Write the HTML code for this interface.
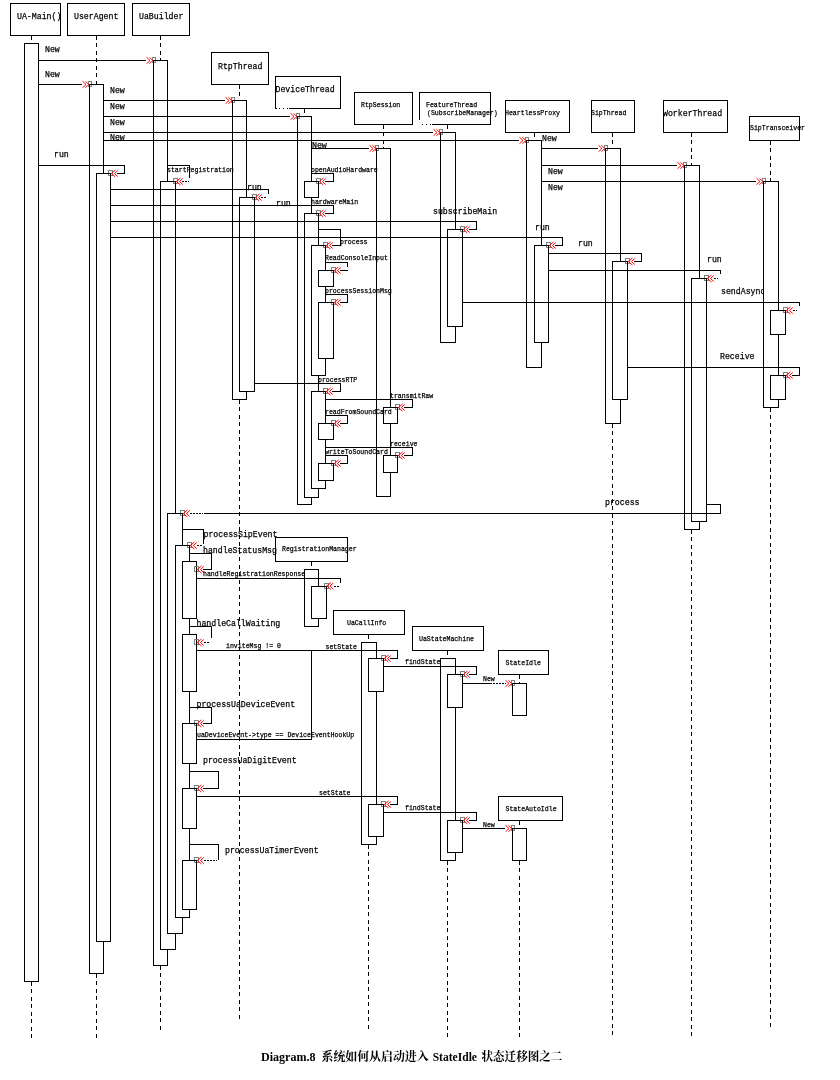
<!DOCTYPE html>
<html><head><meta charset="utf-8"><title>Diagram.8</title>
<style>
html,body{margin:0;padding:0;background:#fff;}
body{width:840px;height:1080px;overflow:hidden;font-family:"Liberation Mono",monospace;}
svg{display:block;}
.l{stroke:#000;stroke-width:1;fill:none;}
.a{stroke:#000;stroke-width:1;fill:#fff;}
.d{stroke:#000;stroke-width:1;fill:none;stroke-dasharray:4 3.5;}
.dd{stroke:#000;stroke-width:1;fill:none;stroke-dasharray:1.5 1.5;}
.r{stroke:#f00;stroke-width:1;fill:none;}
.g{stroke:#808080;stroke-width:1;fill:none;}
text{font-family:"Liberation Mono",monospace;fill:#000;stroke:#000;stroke-width:0.25px;}
.tb{font-size:9px;}
.ts{font-size:7px;}
.cap{font-family:"Liberation Serif","Noto Serif CJK SC",serif;font-weight:bold;font-size:12px;stroke:none;}
</style></head><body>
<svg width="840" height="1080" viewBox="0 0 840 1080">
<rect x="0" y="0" width="840" height="1080" fill="#fff"/>
<g shape-rendering="crispEdges">
<path class="d" d="M31.5 35.5V43.5"/>
<path class="d" d="M31.5 981.5V1037.5"/>
<path class="d" d="M96.5 35.5V84.5"/>
<path class="d" d="M96.5 973.5V1037.5"/>
<path class="d" d="M160.5 35.5V60.5"/>
<path class="d" d="M160.5 965.5V1029.5"/>
<path class="d" d="M239.5 84.5V100.5"/>
<path class="d" d="M239.5 399.5V1020.5"/>
<path class="d" d="M304.5 108.5V116.5"/>
<path class="d" d="M383.5 124.5V148.5"/>
<path class="d" d="M447.5 124.5V132.5"/>
<path class="d" d="M534.5 132.5V140.5"/>
<path class="d" d="M612.5 132.5V148.5"/>
<path class="d" d="M612.5 423.5V1036"/>
<path class="d" d="M691.5 132.5V165.5"/>
<path class="d" d="M691.5 529.5V1036"/>
<path class="d" d="M770.5 140.5V181.5"/>
<path class="d" d="M770.5 407.5V1027.5"/>
<path class="d" d="M311.5 561.5V569.5"/>
<path class="d" d="M368.5 634.5V642.5"/>
<path class="d" d="M368.5 844.5V1030"/>
<path class="d" d="M447.5 650.5V658.5"/>
<path class="d" d="M447.5 860.5V1038"/>
<path class="d" d="M519.5 674.5V683.5"/>
<path class="d" d="M519.5 820.5V828.5"/>
<path class="d" d="M519.5 860.5V1038"/>
<rect class="a" x="10.5" y="3.5" width="50" height="32"/>
<rect class="a" x="67.5" y="3.5" width="57" height="32"/>
<rect class="a" x="132.5" y="3.5" width="57" height="32"/>
<rect class="a" x="211.5" y="52.5" width="57" height="32"/>
<rect class="a" x="275.5" y="76.5" width="65" height="32"/>
<rect class="a" x="354.5" y="92.5" width="58" height="32"/>
<rect class="a" x="419.5" y="92.5" width="71" height="32"/>
<rect class="a" x="505.5" y="100.5" width="64" height="32"/>
<rect class="a" x="591.5" y="100.5" width="43" height="32"/>
<rect class="a" x="663.5" y="100.5" width="64" height="32"/>
<rect class="a" x="749.5" y="116.5" width="50" height="24"/>
<rect class="a" x="275.5" y="537.5" width="72" height="24"/>
<rect class="a" x="333.5" y="610.5" width="71" height="24"/>
<rect class="a" x="412.5" y="626.5" width="71" height="24"/>
<rect class="a" x="498.5" y="650.5" width="50" height="24"/>
<rect class="a" x="498.5" y="796.5" width="64" height="24"/>
<rect class="a" x="24.5" y="43.5" width="14" height="938"/>
<rect class="a" x="89.5" y="84.5" width="14" height="889"/>
<rect class="a" x="96.5" y="173.5" width="14" height="768"/>
<rect class="a" x="153.5" y="60.5" width="14" height="905"/>
<rect class="a" x="160.5" y="181.5" width="15" height="768"/>
<rect class="a" x="167.5" y="513.5" width="15" height="420"/>
<rect class="a" x="175.5" y="545.5" width="14" height="372"/>
<rect class="a" x="182.5" y="561.5" width="14" height="57"/>
<rect class="a" x="182.5" y="634.5" width="14" height="57"/>
<rect class="a" x="182.5" y="723.5" width="14" height="40"/>
<rect class="a" x="182.5" y="788.5" width="14" height="40"/>
<rect class="a" x="182.5" y="860.5" width="14" height="49"/>
<rect class="a" x="232.5" y="100.5" width="14" height="299"/>
<rect class="a" x="239.5" y="197.5" width="15" height="194"/>
<rect class="a" x="297.5" y="116.5" width="14" height="388"/>
<rect class="a" x="304.5" y="181.5" width="14" height="16"/>
<rect class="a" x="304.5" y="213.5" width="14" height="283.5"/>
<rect class="a" x="311.5" y="245.5" width="14" height="130"/>
<rect class="a" x="311.5" y="391.5" width="14" height="97"/>
<rect class="a" x="318.5" y="270.5" width="15" height="16"/>
<rect class="a" x="318.5" y="302.5" width="15" height="56"/>
<rect class="a" x="318.5" y="423.5" width="15" height="16"/>
<rect class="a" x="318.5" y="463.5" width="15" height="17"/>
<rect class="a" x="376.5" y="148.5" width="14" height="348"/>
<rect class="a" x="383.5" y="407.5" width="14" height="16"/>
<rect class="a" x="383.5" y="455.5" width="14" height="16.5"/>
<rect class="a" x="440.5" y="132.5" width="15" height="210"/>
<rect class="a" x="447.5" y="229.5" width="15" height="97"/>
<rect class="a" x="526.5" y="140.5" width="15" height="227"/>
<rect class="a" x="534.5" y="245.5" width="14" height="97"/>
<rect class="a" x="605.5" y="148.5" width="15" height="275"/>
<rect class="a" x="612.5" y="261.5" width="15" height="138"/>
<rect class="a" x="684.5" y="165.5" width="15" height="364"/>
<rect class="a" x="691.5" y="278.5" width="15" height="243"/>
<rect class="a" x="763.5" y="181.5" width="15" height="226"/>
<rect class="a" x="770.5" y="310.5" width="15" height="24"/>
<rect class="a" x="770.5" y="375.5" width="15" height="24"/>
<rect class="a" x="304.5" y="569.5" width="14" height="57"/>
<rect class="a" x="311.5" y="586" width="14.5" height="32.5"/>
<rect class="a" x="361.5" y="642.5" width="15" height="202"/>
<rect class="a" x="368.5" y="658.5" width="15" height="33"/>
<rect class="a" x="368.5" y="804.5" width="15" height="32"/>
<rect class="a" x="440.5" y="658.5" width="15" height="202"/>
<rect class="a" x="447.5" y="674.5" width="15" height="33"/>
<rect class="a" x="447.5" y="820.5" width="15" height="32"/>
<rect class="a" x="512.5" y="683.5" width="14" height="32"/>
<rect class="a" x="512.5" y="828.5" width="14" height="32"/>
<path class="l" d="M38.5 60.5L145.5 60.5"/>
<path class="l" d="M38.5 84.5L81.5 84.5"/>
<path class="l" d="M103.5 100.5L224.5 100.5"/>
<path class="l" d="M103.5 116.5L289.5 116.5"/>
<path class="l" d="M103.5 132.5L432.5 132.5"/>
<path class="l" d="M103.5 140.5L518.5 140.5"/>
<path class="l" d="M38.5 165.5L124.5 165.5L124.5 173.5L117 173.5"/>
<path class="l" d="M167.5 165.5L189.5 165.5L189.5 177.5"/>
<path class="dd" d="M182 181.5H188.5"/>
<path class="l" d="M311.5 148.5L368.5 148.5"/>
<path class="l" d="M311.5 173.5L333.5 173.5L333.5 181.5L325 181.5"/>
<path class="l" d="M110.5 189.5L268.5 189.5L268.5 193.5"/>
<path class="dd" d="M261 197.5H267"/>
<path class="l" d="M110.5 205.5L333.5 205.5L333.5 213.5L325 213.5"/>
<path class="l" d="M110.5 221.5L476.5 221.5L476.5 229.5L469 229.5"/>
<path class="l" d="M110.5 237.5L562.5 237.5L562.5 245.5L555 245.5"/>
<path class="l" d="M318.5 229.5L340.5 229.5L340.5 245.5L332 245.5"/>
<path class="l" d="M325.5 262.5L347.5 262.5L347.5 267"/>
<path class="l" d="M347.5 270.5L340 270.5"/>
<path class="l" d="M325.5 294.5L347.5 294.5L347.5 302.5L340 302.5"/>
<path class="l" d="M541.5 148.5L597.5 148.5"/>
<path class="l" d="M541.5 165.5L676.5 165.5"/>
<path class="l" d="M541.5 181.5L755.5 181.5"/>
<path class="l" d="M548.5 253.5L641.5 253.5L641.5 261.5L634 261.5"/>
<path class="l" d="M548.5 270.5L720.5 270.5L720.5 274"/>
<path class="dd" d="M714 278.5H718"/>
<path class="l" d="M462.5 302.5L799.5 302.5L799.5 306"/>
<path class="dd" d="M793 310.5H797"/>
<path class="l" d="M627.5 367.5L799.5 367.5L799.5 375.5L792 375.5"/>
<path class="l" d="M254.5 383.5L340.5 383.5L340.5 391.5L332 391.5"/>
<path class="l" d="M325.5 399.5L412.5 399.5L412.5 407.5L404 407.5"/>
<path class="l" d="M325.5 415.5L347.5 415.5L347.5 423.5L340 423.5"/>
<path class="l" d="M325.5 447.5L412.5 447.5L412.5 455.5L404 455.5"/>
<path class="l" d="M325.5 455.5L347.5 455.5L347.5 463.5L340 463.5"/>
<path class="l" d="M706.5 504.5L720.5 504.5L720.5 513.5L204 513.5"/>
<path class="dd" d="M190 513.5H203"/>
<path class="l" d="M182.5 529.5L203.5 529.5L203.5 543.5"/>
<path class="dd" d="M197 545.5H203"/>
<path class="l" d="M189.5 553.5L211.5 553.5L211.5 569.5L203 569.5"/>
<path class="l" d="M196.5 578.5L340.5 578.5L340.5 583"/>
<path class="dd" d="M334 586H340"/>
<path class="l" d="M189.5 626.5L211.5 626.5L211.5 638"/>
<path class="dd" d="M204 642.5H210"/>
<path class="l" d="M196.5 650.5L397.5 650.5L397.5 658.5L390 658.5"/>
<path class="l" d="M311.5 650.5L311.5 739.5L196.5 739.5"/>
<path class="l" d="M383.5 666.5L476.5 666.5L476.5 674.5L469 674.5"/>
<path class="l" d="M462.5 683.5L490 683.5"/>
<path class="dd" d="M490 683.5H506"/>
<path class="l" d="M189.5 707.5L211.5 707.5L211.5 723.5L203 723.5"/>
<path class="l" d="M189.5 771.5L218.5 771.5L218.5 788.5L203 788.5"/>
<path class="l" d="M196.5 796.5L397.5 796.5L397.5 804.5L390 804.5"/>
<path class="l" d="M383.5 812.5L476.5 812.5L476.5 820.5L469 820.5"/>
<path class="l" d="M462.5 828.5L504.5 828.5"/>
<path class="l" d="M189.5 844.5L218.5 844.5L218.5 860"/>
<path class="dd" d="M204 860.5H217"/>
<path d="M276.5 108.5H289M419.5 120V124.5H432" style="stroke:#fff;stroke-width:1.2;fill:none"/>
<path class="l" d="M278.5 108.5h1m3 0h1m3 0h1M421.5 124.5h1m3.5 0h1m3 0h1"/>
</g>
<g>
<rect class="g" shape-rendering="crispEdges" x="152.5" y="57.5" width="3" height="5"/>
<path class="l" shape-rendering="crispEdges" d="M156.5 60.5H153.5V63.5"/>
<path class="r" d="M146.5 57.25L150 60.5L146.5 63.75M149.5 57.25L152.75 60.5L149.5 63.75"/>
<rect class="g" shape-rendering="crispEdges" x="88.5" y="81.5" width="3" height="5"/>
<path class="l" shape-rendering="crispEdges" d="M92.5 84.5H89.5V87.5"/>
<path class="r" d="M82.5 81.25L86 84.5L82.5 87.75M85.5 81.25L88.75 84.5L85.5 87.75"/>
<rect class="g" shape-rendering="crispEdges" x="231.5" y="97.5" width="3" height="5"/>
<path class="l" shape-rendering="crispEdges" d="M235.5 100.5H232.5V103.5"/>
<path class="r" d="M225.5 97.25L229 100.5L225.5 103.75M228.5 97.25L231.75 100.5L228.5 103.75"/>
<rect class="g" shape-rendering="crispEdges" x="296.5" y="113.5" width="3" height="5"/>
<path class="l" shape-rendering="crispEdges" d="M300.5 116.5H297.5V119.5"/>
<path class="r" d="M290.5 113.25L294 116.5L290.5 119.75M293.5 113.25L296.75 116.5L293.5 119.75"/>
<rect class="g" shape-rendering="crispEdges" x="439.5" y="129.5" width="3" height="5"/>
<path class="l" shape-rendering="crispEdges" d="M443.5 132.5H440.5V135.5"/>
<path class="r" d="M433.5 129.25L437 132.5L433.5 135.75M436.5 129.25L439.75 132.5L436.5 135.75"/>
<rect class="g" shape-rendering="crispEdges" x="525.5" y="137.5" width="3" height="5"/>
<path class="l" shape-rendering="crispEdges" d="M529.5 140.5H526.5V143.5"/>
<path class="r" d="M519.5 137.25L523 140.5L519.5 143.75M522.5 137.25L525.75 140.5L522.5 143.75"/>
<rect class="g" shape-rendering="crispEdges" x="108.5" y="170.5" width="4" height="5"/>
<path class="l" shape-rendering="crispEdges" d="M107.5 173.5H110.5V176.5"/>
<path class="r" d="M115.5 170L111.25 173.5L115.5 177M117.75 170.5L114.5 173.5L117.75 176.5"/>
<rect class="g" shape-rendering="crispEdges" x="173.5" y="178.5" width="4" height="5"/>
<path class="l" shape-rendering="crispEdges" d="M172.5 181.5H175.5V184.5"/>
<path class="r" d="M180.5 178L176.25 181.5L180.5 185M182.75 178.5L179.5 181.5L182.75 184.5"/>
<rect class="g" shape-rendering="crispEdges" x="375.5" y="145.5" width="3" height="5"/>
<path class="l" shape-rendering="crispEdges" d="M379.5 148.5H376.5V151.5"/>
<path class="r" d="M369.5 145.25L373 148.5L369.5 151.75M372.5 145.25L375.75 148.5L372.5 151.75"/>
<rect class="g" shape-rendering="crispEdges" x="316.5" y="178.5" width="4" height="5"/>
<path class="l" shape-rendering="crispEdges" d="M315.5 181.5H318.5V184.5"/>
<path class="r" d="M323.5 178L319.25 181.5L323.5 185M325.75 178.5L322.5 181.5L325.75 184.5"/>
<rect class="g" shape-rendering="crispEdges" x="252.5" y="194.5" width="4" height="5"/>
<path class="l" shape-rendering="crispEdges" d="M251.5 197.5H254.5V200.5"/>
<path class="r" d="M259.5 194L255.25 197.5L259.5 201M261.75 194.5L258.5 197.5L261.75 200.5"/>
<rect class="g" shape-rendering="crispEdges" x="316.5" y="210.5" width="4" height="5"/>
<path class="l" shape-rendering="crispEdges" d="M315.5 213.5H318.5V216.5"/>
<path class="r" d="M323.5 210L319.25 213.5L323.5 217M325.75 210.5L322.5 213.5L325.75 216.5"/>
<rect class="g" shape-rendering="crispEdges" x="460.5" y="226.5" width="4" height="5"/>
<path class="l" shape-rendering="crispEdges" d="M459.5 229.5H462.5V232.5"/>
<path class="r" d="M467.5 226L463.25 229.5L467.5 233M469.75 226.5L466.5 229.5L469.75 232.5"/>
<rect class="g" shape-rendering="crispEdges" x="546.5" y="242.5" width="4" height="5"/>
<path class="l" shape-rendering="crispEdges" d="M545.5 245.5H548.5V248.5"/>
<path class="r" d="M553.5 242L549.25 245.5L553.5 249M555.75 242.5L552.5 245.5L555.75 248.5"/>
<rect class="g" shape-rendering="crispEdges" x="323.5" y="242.5" width="4" height="5"/>
<path class="l" shape-rendering="crispEdges" d="M322.5 245.5H325.5V248.5"/>
<path class="r" d="M330.5 242L326.25 245.5L330.5 249M332.75 242.5L329.5 245.5L332.75 248.5"/>
<rect class="g" shape-rendering="crispEdges" x="331.5" y="267.5" width="4" height="5"/>
<path class="l" shape-rendering="crispEdges" d="M330.5 270.5H333.5V273.5"/>
<path class="r" d="M338.5 267L334.25 270.5L338.5 274M340.75 267.5L337.5 270.5L340.75 273.5"/>
<rect class="g" shape-rendering="crispEdges" x="331.5" y="299.5" width="4" height="5"/>
<path class="l" shape-rendering="crispEdges" d="M330.5 302.5H333.5V305.5"/>
<path class="r" d="M338.5 299L334.25 302.5L338.5 306M340.75 299.5L337.5 302.5L340.75 305.5"/>
<rect class="g" shape-rendering="crispEdges" x="604.5" y="145.5" width="3" height="5"/>
<path class="l" shape-rendering="crispEdges" d="M608.5 148.5H605.5V151.5"/>
<path class="r" d="M598.5 145.25L602 148.5L598.5 151.75M601.5 145.25L604.75 148.5L601.5 151.75"/>
<rect class="g" shape-rendering="crispEdges" x="683.5" y="162.5" width="3" height="5"/>
<path class="l" shape-rendering="crispEdges" d="M687.5 165.5H684.5V168.5"/>
<path class="r" d="M677.5 162.25L681 165.5L677.5 168.75M680.5 162.25L683.75 165.5L680.5 168.75"/>
<rect class="g" shape-rendering="crispEdges" x="762.5" y="178.5" width="3" height="5"/>
<path class="l" shape-rendering="crispEdges" d="M766.5 181.5H763.5V184.5"/>
<path class="r" d="M756.5 178.25L760 181.5L756.5 184.75M759.5 178.25L762.75 181.5L759.5 184.75"/>
<rect class="g" shape-rendering="crispEdges" x="625.5" y="258.5" width="4" height="5"/>
<path class="l" shape-rendering="crispEdges" d="M624.5 261.5H627.5V264.5"/>
<path class="r" d="M632.5 258L628.25 261.5L632.5 265M634.75 258.5L631.5 261.5L634.75 264.5"/>
<rect class="g" shape-rendering="crispEdges" x="704.5" y="275.5" width="4" height="5"/>
<path class="l" shape-rendering="crispEdges" d="M703.5 278.5H706.5V281.5"/>
<path class="r" d="M711.5 275L707.25 278.5L711.5 282M713.75 275.5L710.5 278.5L713.75 281.5"/>
<rect class="g" shape-rendering="crispEdges" x="783.5" y="307.5" width="4" height="5"/>
<path class="l" shape-rendering="crispEdges" d="M782.5 310.5H785.5V313.5"/>
<path class="r" d="M790.5 307L786.25 310.5L790.5 314M792.75 307.5L789.5 310.5L792.75 313.5"/>
<rect class="g" shape-rendering="crispEdges" x="783.5" y="372.5" width="4" height="5"/>
<path class="l" shape-rendering="crispEdges" d="M782.5 375.5H785.5V378.5"/>
<path class="r" d="M790.5 372L786.25 375.5L790.5 379M792.75 372.5L789.5 375.5L792.75 378.5"/>
<rect class="g" shape-rendering="crispEdges" x="323.5" y="388.5" width="4" height="5"/>
<path class="l" shape-rendering="crispEdges" d="M322.5 391.5H325.5V394.5"/>
<path class="r" d="M330.5 388L326.25 391.5L330.5 395M332.75 388.5L329.5 391.5L332.75 394.5"/>
<rect class="g" shape-rendering="crispEdges" x="395.5" y="404.5" width="4" height="5"/>
<path class="l" shape-rendering="crispEdges" d="M394.5 407.5H397.5V410.5"/>
<path class="r" d="M402.5 404L398.25 407.5L402.5 411M404.75 404.5L401.5 407.5L404.75 410.5"/>
<rect class="g" shape-rendering="crispEdges" x="331.5" y="420.5" width="4" height="5"/>
<path class="l" shape-rendering="crispEdges" d="M330.5 423.5H333.5V426.5"/>
<path class="r" d="M338.5 420L334.25 423.5L338.5 427M340.75 420.5L337.5 423.5L340.75 426.5"/>
<rect class="g" shape-rendering="crispEdges" x="395.5" y="452.5" width="4" height="5"/>
<path class="l" shape-rendering="crispEdges" d="M394.5 455.5H397.5V458.5"/>
<path class="r" d="M402.5 452L398.25 455.5L402.5 459M404.75 452.5L401.5 455.5L404.75 458.5"/>
<rect class="g" shape-rendering="crispEdges" x="331.5" y="460.5" width="4" height="5"/>
<path class="l" shape-rendering="crispEdges" d="M330.5 463.5H333.5V466.5"/>
<path class="r" d="M338.5 460L334.25 463.5L338.5 467M340.75 460.5L337.5 463.5L340.75 466.5"/>
<rect class="g" shape-rendering="crispEdges" x="180.5" y="510.5" width="4" height="5"/>
<path class="l" shape-rendering="crispEdges" d="M179.5 513.5H182.5V516.5"/>
<path class="r" d="M187.5 510L183.25 513.5L187.5 517M189.75 510.5L186.5 513.5L189.75 516.5"/>
<rect class="g" shape-rendering="crispEdges" x="187.5" y="542.5" width="4" height="5"/>
<path class="l" shape-rendering="crispEdges" d="M186.5 545.5H189.5V548.5"/>
<path class="r" d="M194.5 542L190.25 545.5L194.5 549M196.75 542.5L193.5 545.5L196.75 548.5"/>
<rect class="g" shape-rendering="crispEdges" x="194.5" y="566.5" width="4" height="5"/>
<path class="l" shape-rendering="crispEdges" d="M196.5 566.5V572.5"/>
<path class="r" d="M201.5 566L197.25 569.5L201.5 573M203.75 566.5L200.5 569.5L203.75 572.5"/>
<rect class="g" shape-rendering="crispEdges" x="324" y="583" width="4" height="5"/>
<path class="l" shape-rendering="crispEdges" d="M323 586H326V589"/>
<path class="r" d="M331 582.5L326.75 586L331 589.5M333.25 583L330 586L333.25 589"/>
<rect class="g" shape-rendering="crispEdges" x="194.5" y="639.5" width="4" height="5"/>
<path class="l" shape-rendering="crispEdges" d="M196.5 639.5V645.5"/>
<path class="r" d="M201.5 639L197.25 642.5L201.5 646M203.75 639.5L200.5 642.5L203.75 645.5"/>
<rect class="g" shape-rendering="crispEdges" x="381.5" y="655.5" width="4" height="5"/>
<path class="l" shape-rendering="crispEdges" d="M380.5 658.5H383.5V661.5"/>
<path class="r" d="M388.5 655L384.25 658.5L388.5 662M390.75 655.5L387.5 658.5L390.75 661.5"/>
<rect class="g" shape-rendering="crispEdges" x="460.5" y="671.5" width="4" height="5"/>
<path class="l" shape-rendering="crispEdges" d="M459.5 674.5H462.5V677.5"/>
<path class="r" d="M467.5 671L463.25 674.5L467.5 678M469.75 671.5L466.5 674.5L469.75 677.5"/>
<rect class="g" shape-rendering="crispEdges" x="511.5" y="680.5" width="3" height="5"/>
<path class="l" shape-rendering="crispEdges" d="M515.5 683.5H512.5V686.5"/>
<path class="r" d="M505.5 680.25L509 683.5L505.5 686.75M508.5 680.25L511.75 683.5L508.5 686.75"/>
<rect class="g" shape-rendering="crispEdges" x="194.5" y="720.5" width="4" height="5"/>
<path class="l" shape-rendering="crispEdges" d="M193.5 723.5H196.5V726.5"/>
<path class="r" d="M201.5 720L197.25 723.5L201.5 727M203.75 720.5L200.5 723.5L203.75 726.5"/>
<rect class="g" shape-rendering="crispEdges" x="194.5" y="785.5" width="4" height="5"/>
<path class="l" shape-rendering="crispEdges" d="M193.5 788.5H196.5V791.5"/>
<path class="r" d="M201.5 785L197.25 788.5L201.5 792M203.75 785.5L200.5 788.5L203.75 791.5"/>
<rect class="g" shape-rendering="crispEdges" x="381.5" y="801.5" width="4" height="5"/>
<path class="l" shape-rendering="crispEdges" d="M380.5 804.5H383.5V807.5"/>
<path class="r" d="M388.5 801L384.25 804.5L388.5 808M390.75 801.5L387.5 804.5L390.75 807.5"/>
<rect class="g" shape-rendering="crispEdges" x="460.5" y="817.5" width="4" height="5"/>
<path class="l" shape-rendering="crispEdges" d="M459.5 820.5H462.5V823.5"/>
<path class="r" d="M467.5 817L463.25 820.5L467.5 824M469.75 817.5L466.5 820.5L469.75 823.5"/>
<rect class="g" shape-rendering="crispEdges" x="511.5" y="825.5" width="3" height="5"/>
<path class="l" shape-rendering="crispEdges" d="M515.5 828.5H512.5V831.5"/>
<path class="r" d="M505.5 825.25L509 828.5L505.5 831.75M508.5 825.25L511.75 828.5L508.5 831.75"/>
<rect class="g" shape-rendering="crispEdges" x="194.5" y="857.5" width="4" height="5"/>
<path class="l" shape-rendering="crispEdges" d="M193.5 860.5H196.5V863.5"/>
<path class="r" d="M201.5 857L197.25 860.5L201.5 864M203.75 857.5L200.5 860.5L203.75 863.5"/>
</g>
<defs><clipPath id="cs"><rect x="700" y="280" width="63.5" height="20"/></clipPath></defs>
<g style="filter:grayscale(1)">
<text class="tb" x="17" y="19" textLength="44.37" lengthAdjust="spacingAndGlyphs">UA-Main()</text>
<text class="tb" x="74" y="19" textLength="44.37" lengthAdjust="spacingAndGlyphs">UserAgent</text>
<text class="tb" x="139" y="19" textLength="44.37" lengthAdjust="spacingAndGlyphs">UaBuilder</text>
<text class="tb" x="218" y="68.5" textLength="44.37" lengthAdjust="spacingAndGlyphs">RtpThread</text>
<text class="tb" x="275.5" y="92" textLength="59.16" lengthAdjust="spacingAndGlyphs">DeviceThread</text>
<text class="tb" x="663" y="116" textLength="59.16" lengthAdjust="spacingAndGlyphs">WorkerThread</text>
<text class="tb" x="45" y="51.7" textLength="14.79" lengthAdjust="spacingAndGlyphs">New</text>
<text class="tb" x="45" y="77" textLength="14.79" lengthAdjust="spacingAndGlyphs">New</text>
<text class="tb" x="110" y="92.5" textLength="14.79" lengthAdjust="spacingAndGlyphs">New</text>
<text class="tb" x="110" y="108.5" textLength="14.79" lengthAdjust="spacingAndGlyphs">New</text>
<text class="tb" x="110" y="124.5" textLength="14.79" lengthAdjust="spacingAndGlyphs">New</text>
<text class="tb" x="110" y="140.3" textLength="14.79" lengthAdjust="spacingAndGlyphs">New</text>
<text class="tb" x="54" y="156.5" textLength="14.79" lengthAdjust="spacingAndGlyphs">run</text>
<text class="tb" x="312" y="148.3" textLength="14.79" lengthAdjust="spacingAndGlyphs">New</text>
<text class="tb" x="247" y="189.5" textLength="14.79" lengthAdjust="spacingAndGlyphs">run</text>
<text class="tb" x="276" y="205.5" textLength="14.79" lengthAdjust="spacingAndGlyphs">run</text>
<text class="tb" x="542" y="141" textLength="14.79" lengthAdjust="spacingAndGlyphs">New</text>
<text class="tb" x="548" y="174" textLength="14.79" lengthAdjust="spacingAndGlyphs">New</text>
<text class="tb" x="548" y="190" textLength="14.79" lengthAdjust="spacingAndGlyphs">New</text>
<text class="tb" x="433" y="214" textLength="64.09" lengthAdjust="spacingAndGlyphs">subscribeMain</text>
<text class="tb" x="535" y="230" textLength="14.79" lengthAdjust="spacingAndGlyphs">run</text>
<text class="tb" x="578" y="246" textLength="14.79" lengthAdjust="spacingAndGlyphs">run</text>
<text class="tb" x="707" y="261.5" textLength="14.79" lengthAdjust="spacingAndGlyphs">run</text>
<text class="tb" clip-path="url(#cs)" x="721" y="294" textLength="44.37" lengthAdjust="spacingAndGlyphs">sendAsync</text>
<text class="tb" x="720" y="358.5" textLength="34.51" lengthAdjust="spacingAndGlyphs">Receive</text>
<text class="tb" x="605" y="504.5" textLength="34.51" lengthAdjust="spacingAndGlyphs">process</text>
<text class="tb" x="203.5" y="537" textLength="73.95" lengthAdjust="spacingAndGlyphs">processSipEvent</text>
<text class="tb" x="203" y="553" textLength="73.95" lengthAdjust="spacingAndGlyphs">handleStatusMsg</text>
<text class="tb" x="196.5" y="625.5" textLength="83.81" lengthAdjust="spacingAndGlyphs">handleCallWaiting</text>
<text class="tb" x="196.5" y="707" textLength="98.6" lengthAdjust="spacingAndGlyphs">processUaDeviceEvent</text>
<text class="tb" x="203" y="763" textLength="93.67" lengthAdjust="spacingAndGlyphs">processUaDigitEvent</text>
<text class="tb" x="225" y="852.5" textLength="93.67" lengthAdjust="spacingAndGlyphs">processUaTimerEvent</text>
<text class="ts" x="167" y="172" textLength="66.81" lengthAdjust="spacingAndGlyphs">startRegistration</text>
<text class="ts" x="361" y="106.8" textLength="39.3" lengthAdjust="spacingAndGlyphs">RtpSession</text>
<text class="ts" x="311" y="172" textLength="66.81" lengthAdjust="spacingAndGlyphs">openAudioHardware</text>
<text class="ts" x="311" y="204.1" textLength="47.16" lengthAdjust="spacingAndGlyphs">hardwareMain</text>
<text class="ts" x="340" y="244.3" textLength="27.51" lengthAdjust="spacingAndGlyphs">process</text>
<text class="ts" x="325" y="259.8" textLength="62.88" lengthAdjust="spacingAndGlyphs">ReadConsoleInput</text>
<text class="ts" x="325" y="293.3" textLength="66.81" lengthAdjust="spacingAndGlyphs">processSessionMsg</text>
<text class="ts" x="318" y="381.8" textLength="39.3" lengthAdjust="spacingAndGlyphs">processRTP</text>
<text class="ts" x="390" y="398.3" textLength="43.23" lengthAdjust="spacingAndGlyphs">transmitRaw</text>
<text class="ts" x="325" y="413.8" textLength="66.81" lengthAdjust="spacingAndGlyphs">readFromSoundCard</text>
<text class="ts" x="390" y="446.3" textLength="27.51" lengthAdjust="spacingAndGlyphs">receive</text>
<text class="ts" x="325" y="453.8" textLength="62.88" lengthAdjust="spacingAndGlyphs">writeToSoundCard</text>
<text class="ts" x="426" y="106.8" textLength="51.09" lengthAdjust="spacingAndGlyphs">FeatureThread</text>
<text class="ts" x="427" y="114.8" textLength="70.74" lengthAdjust="spacingAndGlyphs">(SubscribeManager)</text>
<text class="ts" x="505" y="115.3" textLength="55.02" lengthAdjust="spacingAndGlyphs">HeartlessProxy</text>
<text class="ts" x="591" y="114.8" textLength="35.37" lengthAdjust="spacingAndGlyphs">SipThread</text>
<text class="ts" x="750" y="130.3" textLength="55.02" lengthAdjust="spacingAndGlyphs">SipTransceiver</text>
<text class="ts" x="282" y="551.3" textLength="74.67" lengthAdjust="spacingAndGlyphs">RegistrationManager</text>
<text class="ts" x="203" y="576.3" textLength="102.18" lengthAdjust="spacingAndGlyphs">handleRegistrationResponse</text>
<text class="ts" x="226" y="648.3" textLength="55.02" lengthAdjust="spacingAndGlyphs">inviteMsg != 0</text>
<text class="ts" x="325.5" y="648.8" textLength="31.44" lengthAdjust="spacingAndGlyphs">setState</text>
<text class="ts" x="319" y="794.8" textLength="31.44" lengthAdjust="spacingAndGlyphs">setState</text>
<text class="ts" x="197" y="737.3" textLength="157.2" lengthAdjust="spacingAndGlyphs">uaDeviceEvent-&gt;type == DeviceEventHookUp</text>
<text class="ts" x="347" y="624.8" textLength="39.3" lengthAdjust="spacingAndGlyphs">UaCallInfo</text>
<text class="ts" x="419" y="640.8" textLength="55.02" lengthAdjust="spacingAndGlyphs">UaStateMachine</text>
<text class="ts" x="505.5" y="664.8" textLength="35.37" lengthAdjust="spacingAndGlyphs">StateIdle</text>
<text class="ts" x="505.5" y="810.8" textLength="51.09" lengthAdjust="spacingAndGlyphs">StateAutoIdle</text>
<text class="ts" x="405" y="664.3" textLength="35.37" lengthAdjust="spacingAndGlyphs">findState</text>
<text class="ts" x="405" y="810.3" textLength="35.37" lengthAdjust="spacingAndGlyphs">findState</text>
<text class="ts" x="483" y="681.3" textLength="11.79" lengthAdjust="spacingAndGlyphs">New</text>
<text class="ts" x="483" y="826.8" textLength="11.79" lengthAdjust="spacingAndGlyphs">New</text>
</g>
<g style="filter:grayscale(1)">
<text class="cap" x="261" y="1061" textLength="54.6" lengthAdjust="spacingAndGlyphs">Diagram.8</text>
<text class="cap" x="321.5" y="1061" textLength="107.1" lengthAdjust="spacingAndGlyphs">系统如何从启动进入</text>
<text class="cap" x="432.7" y="1061" textLength="44.3" lengthAdjust="spacingAndGlyphs">StateIdle</text>
<text class="cap" x="481.5" y="1061" textLength="80.85" lengthAdjust="spacingAndGlyphs">状态迁移图之二</text>
</g>
</svg>
</body></html>
